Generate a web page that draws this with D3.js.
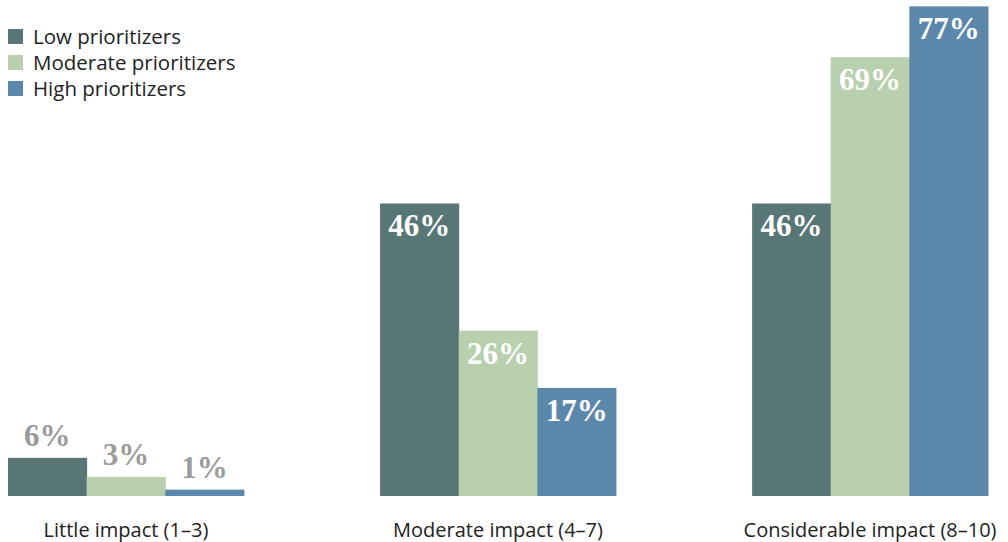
<!DOCTYPE html>
<html>
<head>
<meta charset="utf-8">
<script src="https://cdn.jsdelivr.net/npm/d3@7"></script>
<style>
  html, body { margin: 0; padding: 0; background: #fff; }
  svg { display: block; }
</style>
</head>
<body>
<svg id="chart" width="1008" height="542"></svg>
<script>
const categories = ["Little impact (1–3)", "Moderate impact (4–7)", "Considerable impact (8–10)"];
const seriesNames = ["Low prioritizers", "Moderate prioritizers", "High prioritizers"];
const lowValues = [6, 46, 46];
const moderateValues = [3, 26, 69];
const highValues = [1, 17, 77];
const colors = ["#587676", "#b8d0ae", "#5b87aa"];

const seriesValues = [lowValues, moderateValues, highValues];
const data = [];
categories.forEach((c, ci) => {
  seriesNames.forEach((s, si) => {
    data.push({ category: c, series: s, value: seriesValues[si][ci], si });
  });
});

const svg = d3.select("#chart");
const baseline = 496;

const x0 = d3.scaleBand()
  .domain(categories)
  .range([8, 988])
  .paddingInner(0.366)
  .paddingOuter(0);

const x1 = d3.scaleBand()
  .domain(seriesNames)
  .range([0, x0.bandwidth()])
  .padding(0);

const y = d3.scaleLinear().domain([0, 78]).range([baseline, 0]);

const color = d3.scaleOrdinal().domain(seriesNames).range(colors);

// bars
svg.append("g").selectAll("rect")
  .data(data)
  .join("rect")
  .attr("x", d => x0(d.category) + x1(d.series))
  .attr("y", d => y(d.value))
  .attr("width", x1.bandwidth() + 0.5)
  .attr("height", d => baseline - y(d.value))
  .attr("fill", d => color(d.series));

// value labels
svg.append("g").selectAll("text")
  .data(data)
  .join("text")
  .attr("x", d => x0(d.category) + x1(d.series) + x1.bandwidth() / 2)
  .attr("y", d => d.value < 10 ? y(d.value) - 12 : y(d.value) + 33)
  .attr("text-anchor", "middle")
  .attr("font-family", "'Liberation Serif', 'DejaVu Serif', serif")
  .attr("font-weight", "bold")
  .attr("font-size", 31)
  .attr("fill", d => d.value < 10 ? "#9b9b9b" : "#ffffff")
  .text(d => d.value + "%");

// category axis labels
const xAxis = d3.axisBottom(x0).tickSize(0).tickPadding(0);
const axisG = svg.append("g")
  .attr("transform", `translate(0, ${baseline})`)
  .call(xAxis);
axisG.select(".domain").remove();
axisG.selectAll("text")
  .attr("y", 41)
  .attr("dy", 0)
  .attr("font-family", "'Open Sans', sans-serif")
  .attr("font-size", 20)
  .attr("fill", "#222");

// legend
const legend = svg.append("g").selectAll("g")
  .data(seriesNames)
  .join("g")
  .attr("transform", (d, i) => `translate(8, ${44 + i * 26})`);
legend.append("rect")
  .attr("x", 0)
  .attr("y", -15)
  .attr("width", 15)
  .attr("height", 15)
  .attr("fill", d => color(d));
legend.append("text")
  .attr("x", 25)
  .attr("y", 0)
  .attr("font-family", "'Open Sans', sans-serif")
  .attr("font-size", 20.5)
  .attr("fill", "#222")
  .text(d => d);
</script>
</body>
</html>
